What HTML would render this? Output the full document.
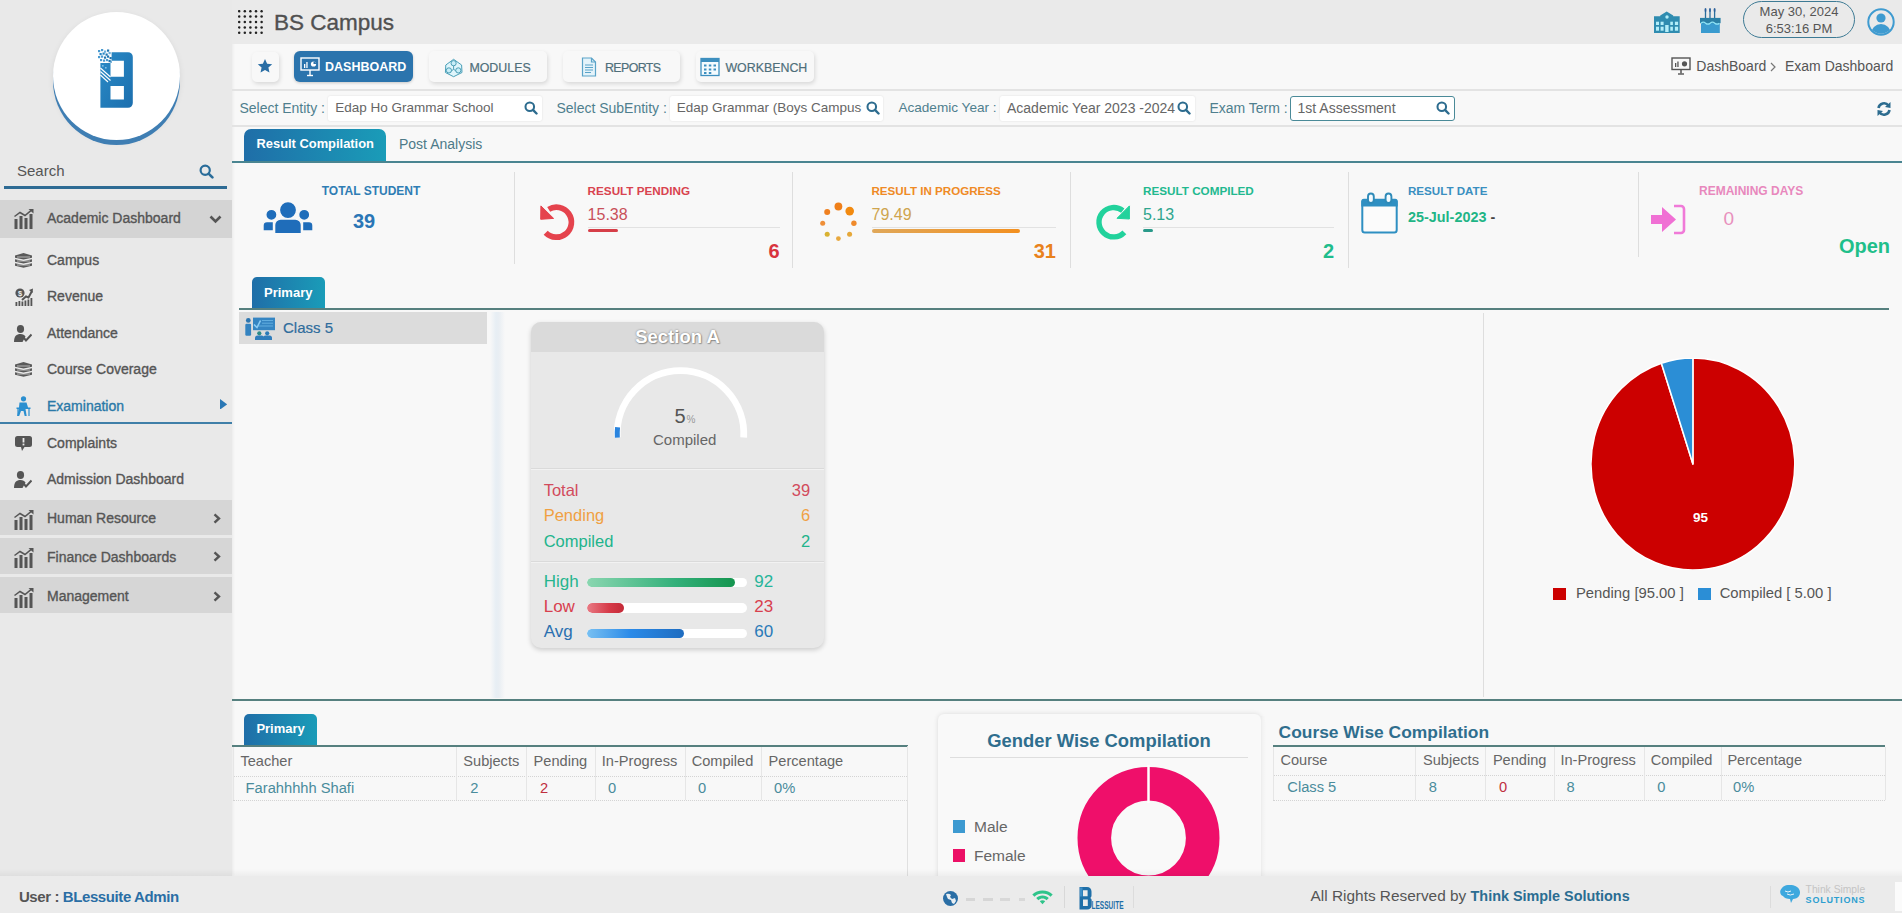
<!DOCTYPE html>
<html><head><meta charset="utf-8"><title>BS Campus - Exam Dashboard</title>
<style>
*{box-sizing:border-box;margin:0;padding:0}
html,body{width:1902px;height:913px;overflow:hidden}
body{position:relative;background:#f8f8f8;font-family:"Liberation Sans",Arial,sans-serif;color:#555}
.a{position:absolute}
.t{position:absolute;white-space:nowrap;line-height:1}
#sidebar{left:0;top:0;width:232px;height:876px;background:#e9e9e9;box-shadow:1px 0 3px rgba(0,0,0,.06)}
#header{left:232px;top:0;width:1670px;height:44px;background:#eaeaea}
#footer{left:0;top:876px;width:1902px;height:37px;background:#ebebeb}
.hl{position:absolute;height:1px;background:#dedede}
.vl{position:absolute;width:1px;background:#dedede}
.mi{font-size:14px;-webkit-text-stroke:.35px currentColor}
.btn{background:#f8f8f8;border-radius:5px;box-shadow:1px 2px 4px rgba(0,0,0,.13)}
.tbt{font-size:12.4px;color:#4f6f7b;-webkit-text-stroke:.2px #4f6f7b}
.flab{font-size:14px;color:#4f7f8e}
.fbox{position:absolute;height:25px;background:#fff;border-radius:2px;box-shadow:0 0 2px rgba(0,0,0,.12)}
.fval{font-size:14px;color:#666}
.slab{font-size:12px;font-weight:bold}
.sbig{font-size:20px;font-weight:bold}
.snum{font-size:16px}
.trk{position:absolute;height:1.5px;background:#e2e2e2}
.crow{font-size:16.5px}
.bar{position:absolute;left:586.8px;width:160px;height:9.5px;border-radius:5px;background:#fff;overflow:hidden}
.bar div{height:100%;border-radius:5px}
.th{font-size:14.6px;color:#666}
.td{font-size:14.7px}
</style></head>
<body>
<div id="sidebar" class="a">
  <div class="a" style="left:53px;top:12px;width:127px;height:128px;border-radius:50%;background:#fff;box-shadow:0 5px 0 0 #3f7eb3,0 2px 6px rgba(0,0,0,.08)"></div>
  <svg class="a" style="left:96px;top:48px" width="40" height="62" viewBox="0 0 40 62">
    <defs><linearGradient id="bg1" x1="0" y1="0" x2="1" y2="1"><stop offset="0" stop-color="#2a8ac6"/><stop offset="1" stop-color="#1c6fae"/></linearGradient></defs>
    <path fill="url(#bg1)" fill-rule="evenodd" d="M15.6 4.2 H32 a4.8 4.8 0 0 1 4.8 4.8 V55 a4.8 4.8 0 0 1 -4.8 4.8 H4.4 V15 H15.6 Z M14.5 12.8 V28.8 H27.9 V12.8 Z M14.5 38 V51.5 H27.9 V38 Z"/>
    <rect x="2" y="2" width="2.2" height="2.2" fill="#4a9ad0"/><rect x="5" y="1" width="2.2" height="2.2" fill="#4a9ad0"/><rect x="8" y="2.5" width="2.2" height="2.2" fill="#6aaedb"/><rect x="11" y="1.5" width="2.2" height="2.2" fill="#1f74b0"/><rect x="3.5" y="5" width="2.2" height="2.2" fill="#2a86c4"/><rect x="6.5" y="4.5" width="2.2" height="2.2" fill="#2a86c4"/><rect x="9.5" y="5.5" width="2.2" height="2.2" fill="#1f74b0"/><rect x="12.5" y="4" width="2.2" height="2.2" fill="#6aaedb"/><rect x="2" y="8" width="2.2" height="2.2" fill="#4a9ad0"/><rect x="5" y="7.5" width="2.2" height="2.2" fill="#4a9ad0"/><rect x="8" y="8.5" width="2.2" height="2.2" fill="#1f74b0"/><rect x="11" y="7.5" width="2.2" height="2.2" fill="#1f74b0"/><rect x="13.5" y="9" width="2.2" height="2.2" fill="#1f74b0"/><rect x="4" y="11" width="2.2" height="2.2" fill="#4a9ad0"/><rect x="7" y="11.5" width="2.2" height="2.2" fill="#4a9ad0"/><rect x="10" y="11" width="2.2" height="2.2" fill="#4a9ad0"/><rect x="12.5" y="12" width="2.2" height="2.2" fill="#1f74b0"/>
    <g stroke="#fff" stroke-width="1.1"><line x1="4.4" y1="20" x2="14.5" y2="29"/><line x1="4.4" y1="23.5" x2="14.5" y2="32.5"/><line x1="4.4" y1="27" x2="12" y2="34"/></g>
    <g fill="#7fc0ea"><rect x="6" y="17" width="1.6" height="1.6"/><rect x="9" y="19" width="1.6" height="1.6"/></g>
  </svg>
  <div class="t" style="left:17px;top:162.5px;font-size:15px;color:#555">Search</div>
  <svg class="a" style="left:199px;top:164px" width="15" height="15" viewBox="0 0 15 15"><circle cx="6.2" cy="6.2" r="4.6" fill="none" stroke="#2a6d9a" stroke-width="2.2"/><line x1="9.6" y1="9.6" x2="13.4" y2="13.4" stroke="#2a6d9a" stroke-width="2.6" stroke-linecap="round"/></svg>
  <div class="a" style="left:4px;top:186px;width:223px;height:2.5px;background:#2e6b94"></div>
  <div class="a" style="left:0;top:200px;width:232px;height:38px;background:#d4d4d4"></div>
  <div class="a" style="left:0;top:500px;width:232px;height:35px;background:#d6d6d6"></div>
  <div class="a" style="left:0;top:538px;width:232px;height:36px;background:#d6d6d6"></div>
  <div class="a" style="left:0;top:577px;width:232px;height:36px;background:#d6d6d6"></div>
  <div class="a" style="left:0;top:422px;width:232px;height:1.6px;background:#3f7fa8"></div>
  <div class="t mi" style="left:47px;top:211.0px;color:#555">Academic Dashboard</div>
  <svg class="a" style="left:13.5px;top:209.1px" width="20" height="20" viewBox="0 0 20 20"><g fill="#555"><rect x="0.5" y="10" width="3" height="10"/><rect x="5.5" y="7" width="3" height="13"/><rect x="10.5" y="9" width="3" height="11"/><rect x="15.5" y="5" width="3" height="15"/></g><polyline points="0.5,7.5 6,3.5 11,6.5 17.5,1.2" fill="none" stroke="#555" stroke-width="1.5"/><polygon points="14.5,0 19.5,0 19.5,4.5" fill="#555"/></svg>
  <svg class="a" style="left:209px;top:214.7px" width="13" height="9" viewBox="0 0 13 9"><polyline points="1.5,1.5 6.5,6.5 11.5,1.5" fill="none" stroke="#555" stroke-width="2.6"/></svg>
  <div class="t mi" style="left:47px;top:252.8px;color:#555">Campus</div>
  <svg class="a" style="left:14px;top:252.9px" width="19" height="15" viewBox="0 0 19 15"><g fill="#5a5a5a"><path d="M1 2.5 L9.5 0 L18 2.5 L18 4.8 L9.5 6.5 L1 4.8z"/><path d="M1 6.3 L9.5 8 L18 6.3 L18 8.8 L9.5 10.5 L1 8.8z"/><path d="M1 10.3 L9.5 12 L18 10.3 L18 12.8 L9.5 14.8 L1 12.8z"/></g><g stroke="#e2e2e2" stroke-width=".7"><line x1="3" y1="4" x2="16" y2="4"/><line x1="3" y1="8" x2="16" y2="8"/><line x1="3" y1="12" x2="16" y2="12"/></g></svg>
  <div class="t mi" style="left:47px;top:289.2px;color:#555">Revenue</div>
  <svg class="a" style="left:14.5px;top:287.7px" width="18" height="18" viewBox="0 0 18 18"><circle cx="5" cy="5" r="4.6" fill="#555"/><text x="5" y="7.8" font-size="7.5" fill="#eee" text-anchor="middle" font-family="Liberation Sans" font-weight="bold">$</text><polyline points="7,12 11,8.5 13.5,9.5 17,3" fill="none" stroke="#555" stroke-width="2"/><polygon points="14,2 18,0.5 17.5,5" fill="#555"/><g fill="#555"><rect x="0.5" y="14" width="1.8" height="4"/><rect x="3.5" y="13" width="1.8" height="5"/><rect x="6.5" y="13.5" width="1.8" height="4.5"/><rect x="9.5" y="12.5" width="1.8" height="5.5"/><rect x="12.5" y="11.5" width="1.8" height="6.5"/><rect x="15.5" y="10" width="1.8" height="8"/></g></svg>
  <div class="t mi" style="left:47px;top:325.9px;color:#555">Attendance</div>
  <svg class="a" style="left:14px;top:324.6px" width="18" height="17" viewBox="0 0 18 17"><ellipse cx="6.5" cy="4" rx="3.6" ry="4" fill="#555"/><path d="M0 17 C0 11 2.5 9 6.5 9 C9 9 10.5 10 11.5 11.5 L8.5 17z" fill="#555"/><polyline points="9.5,12.5 12,15.5 17.5,9.5" fill="none" stroke="#555" stroke-width="2"/></svg>
  <div class="t mi" style="left:47px;top:362.1px;color:#555">Course Coverage</div>
  <svg class="a" style="left:14px;top:362.2px" width="19" height="15" viewBox="0 0 19 15"><g fill="#5a5a5a"><path d="M1 2.5 L9.5 0 L18 2.5 L18 4.8 L9.5 6.5 L1 4.8z"/><path d="M1 6.3 L9.5 8 L18 6.3 L18 8.8 L9.5 10.5 L1 8.8z"/><path d="M1 10.3 L9.5 12 L18 10.3 L18 12.8 L9.5 14.8 L1 12.8z"/></g><g stroke="#e2e2e2" stroke-width=".7"><line x1="3" y1="4" x2="16" y2="4"/><line x1="3" y1="8" x2="16" y2="8"/><line x1="3" y1="12" x2="16" y2="12"/></g></svg>
  <div class="t mi" style="left:47px;top:399.1px;color:#2a79a8">Examination</div>
  <svg class="a" style="left:16px;top:395.8px" width="15" height="20" viewBox="0 0 15 20"><circle cx="7.5" cy="2.8" r="2.6" fill="#2b8fd0"/><path d="M3.5 6.5 h7 l2 6.5 h-3 l1.2 7 h-2 l-1.2-5 h-2.5 l-1.8 5 h-2 l1.6-7z" fill="#2b8fd0"/><path d="M0.5 11.5 h14 v1.5 h-14z" fill="#2b8fd0"/><path d="M2 13 v7 M13 13 v7" stroke="#2b8fd0" stroke-width="1.2"/></svg>
  <svg class="a" style="left:220.3px;top:398.8px" width="7.2" height="10.6" viewBox="0 0 7.2 10.6"><polygon points="0,0 7.2,5.3 0,10.6" fill="#2a78b5"/></svg>
  <div class="t mi" style="left:47px;top:435.9px;color:#555">Complaints</div>
  <svg class="a" style="left:15px;top:435.7px" width="17" height="15" viewBox="0 0 17 15"><path d="M2.5 0 h12 a2.5 2.5 0 0 1 2.5 2.5 v6 a2.5 2.5 0 0 1 -2.5 2.5 h-5 l-2.5 4 l-1-4 h-3.5 a2.5 2.5 0 0 1 -2.5 -2.5 v-6 a2.5 2.5 0 0 1 2.5 -2.5z" fill="#555"/><rect x="7.6" y="2" width="1.8" height="4.5" fill="#ebebeb"/><rect x="7.6" y="7.6" width="1.8" height="1.8" fill="#ebebeb"/></svg>
  <div class="t mi" style="left:47px;top:471.9px;color:#555">Admission Dashboard</div>
  <svg class="a" style="left:14px;top:470.6px" width="18" height="17" viewBox="0 0 18 17"><ellipse cx="6.5" cy="4" rx="3.6" ry="4" fill="#555"/><path d="M0 17 C0 11 2.5 9 6.5 9 C9 9 10.5 10 11.5 11.5 L8.5 17z" fill="#555"/><polyline points="9.5,12.5 12,15.5 17.5,9.5" fill="none" stroke="#555" stroke-width="2"/></svg>
  <div class="t mi" style="left:47px;top:511.4px;color:#555">Human Resource</div>
  <svg class="a" style="left:13.5px;top:509.5px" width="20" height="20" viewBox="0 0 20 20"><g fill="#555"><rect x="0.5" y="10" width="3" height="10"/><rect x="5.5" y="7" width="3" height="13"/><rect x="10.5" y="9" width="3" height="11"/><rect x="15.5" y="5" width="3" height="15"/></g><polyline points="0.5,7.5 6,3.5 11,6.5 17.5,1.2" fill="none" stroke="#555" stroke-width="1.5"/><polygon points="14.5,0 19.5,0 19.5,4.5" fill="#555"/></svg>
  <svg class="a" style="left:213px;top:512.7px" width="8" height="11" viewBox="0 0 8 11"><polyline points="1.5,1.3 6,5.5 1.5,9.7" fill="none" stroke="#555" stroke-width="2.4"/></svg>
  <div class="t mi" style="left:47px;top:550.0px;color:#555">Finance Dashboards</div>
  <svg class="a" style="left:13.5px;top:548.1px" width="20" height="20" viewBox="0 0 20 20"><g fill="#555"><rect x="0.5" y="10" width="3" height="10"/><rect x="5.5" y="7" width="3" height="13"/><rect x="10.5" y="9" width="3" height="11"/><rect x="15.5" y="5" width="3" height="15"/></g><polyline points="0.5,7.5 6,3.5 11,6.5 17.5,1.2" fill="none" stroke="#555" stroke-width="1.5"/><polygon points="14.5,0 19.5,0 19.5,4.5" fill="#555"/></svg>
  <svg class="a" style="left:213px;top:551.3px" width="8" height="11" viewBox="0 0 8 11"><polyline points="1.5,1.3 6,5.5 1.5,9.7" fill="none" stroke="#555" stroke-width="2.4"/></svg>
  <div class="t mi" style="left:47px;top:589.4px;color:#555">Management</div>
  <svg class="a" style="left:13.5px;top:587.5px" width="20" height="20" viewBox="0 0 20 20"><g fill="#555"><rect x="0.5" y="10" width="3" height="10"/><rect x="5.5" y="7" width="3" height="13"/><rect x="10.5" y="9" width="3" height="11"/><rect x="15.5" y="5" width="3" height="15"/></g><polyline points="0.5,7.5 6,3.5 11,6.5 17.5,1.2" fill="none" stroke="#555" stroke-width="1.5"/><polygon points="14.5,0 19.5,0 19.5,4.5" fill="#555"/></svg>
  <svg class="a" style="left:213px;top:590.7px" width="8" height="11" viewBox="0 0 8 11"><polyline points="1.5,1.3 6,5.5 1.5,9.7" fill="none" stroke="#555" stroke-width="2.4"/></svg>
</div>
<div id="header" class="a"></div>
<svg class="a" style="left:238px;top:9.5px" width="26" height="25" viewBox="0 0 26 25"><g fill="#222"><circle cx="1.2" cy="1.2" r="1.25"/><circle cx="1.2" cy="6.6" r="1.25"/><circle cx="1.2" cy="12.0" r="1.25"/><circle cx="1.2" cy="17.4" r="1.25"/><circle cx="1.2" cy="22.8" r="1.25"/><circle cx="6.8" cy="1.2" r="1.25"/><circle cx="6.8" cy="6.6" r="1.25"/><circle cx="6.8" cy="12.0" r="1.25"/><circle cx="6.8" cy="17.4" r="1.25"/><circle cx="6.8" cy="22.8" r="1.25"/><circle cx="12.4" cy="1.2" r="1.25"/><circle cx="12.4" cy="6.6" r="1.25"/><circle cx="12.4" cy="12.0" r="1.25"/><circle cx="12.4" cy="17.4" r="1.25"/><circle cx="12.4" cy="22.8" r="1.25"/><circle cx="18.0" cy="1.2" r="1.25"/><circle cx="18.0" cy="6.6" r="1.25"/><circle cx="18.0" cy="12.0" r="1.25"/><circle cx="18.0" cy="17.4" r="1.25"/><circle cx="18.0" cy="22.8" r="1.25"/><circle cx="23.6" cy="1.2" r="1.25"/><circle cx="23.6" cy="6.6" r="1.25"/><circle cx="23.6" cy="12.0" r="1.25"/><circle cx="23.6" cy="17.4" r="1.25"/><circle cx="23.6" cy="22.8" r="1.25"/></g></svg>
<div class="t" style="left:274px;top:11.6px;font-size:22.5px;color:#505050;-webkit-text-stroke:.35px #505050">BS Campus</div>
<!-- school icon -->
<svg class="a" style="left:1654px;top:11px" width="26" height="23" viewBox="1654 11 26 23"><g fill="#2f8cb0">
<path d="M1654 33 V16.3 H1660.2 V15.5 L1666.7 11.4 L1673.2 15.5 V16.3 H1679.7 V33 Z"/></g>
<g fill="#b3eef9"><rect x="1656" y="21.7" width="3" height="3.3"/><rect x="1660.6" y="21.7" width="3" height="3.3"/><rect x="1670.3" y="21.7" width="2.6" height="3.3"/><rect x="1674.9" y="21.7" width="3.2" height="3.3"/>
<rect x="1656" y="26.7" width="3" height="4"/><rect x="1660.6" y="26.7" width="3" height="4"/><rect x="1670.3" y="26.7" width="2.6" height="4"/><rect x="1674.9" y="26.7" width="3.2" height="4"/>
<rect x="1665.2" y="25" width="3.4" height="7"/><circle cx="1667" cy="17" r="1.7"/></g></svg>
<!-- cake icon -->
<svg class="a" style="left:1699px;top:7px" width="23" height="27" viewBox="1699 7 23 27">
<rect x="1701" y="22.5" width="18.8" height="10.5" fill="#3a9bcf"/>
<rect x="1700" y="17.9" width="20.6" height="5.3" fill="#2b80a6"/>
<path d="M1701 23.2 q2.3 -2 4.6 0 t4.6 0 t4.6 0 t4.6 0" fill="none" stroke="#8fe3f5" stroke-width="1.2"/>
<g stroke="#2a6f9c" stroke-width="1.3"><line x1="1705.5" y1="11" x2="1705.5" y2="18"/><line x1="1710" y1="11" x2="1710" y2="18"/><line x1="1714.6" y1="11" x2="1714.6" y2="18"/></g>
<g fill="#2a5f9a"><ellipse cx="1705.5" cy="10" rx="1" ry="2"/><ellipse cx="1710" cy="10" rx="1" ry="2"/><ellipse cx="1714.6" cy="10" rx="1" ry="2"/></g></svg>
<div class="a" style="left:1743px;top:1px;width:112px;height:37px;border:1.5px solid #3d7a94;border-radius:19px"></div>
<div class="t" style="left:1743px;width:112px;text-align:center;top:5.2px;font-size:13px;color:#555">May 30, 2024</div>
<div class="t" style="left:1743px;width:112px;text-align:center;top:22.4px;font-size:13px;color:#555">6:53:16 PM</div>
<svg class="a" style="left:1867px;top:8px" width="28" height="28" viewBox="0 0 28 28"><defs><clipPath id="uc"><circle cx="14" cy="14" r="11.8"/></clipPath></defs>
<circle cx="14" cy="14" r="12.7" fill="none" stroke="#3f9bd0" stroke-width="2"/><g clip-path="url(#uc)" fill="#3f9bd0"><circle cx="14" cy="10" r="4.6"/><ellipse cx="14" cy="26" rx="10" ry="10"/></g></svg>


<!-- toolbar / filters lines -->
<!-- toolbar -->
<div class="a btn" style="left:252px;top:52px;width:27px;height:30px"></div>
<svg class="a" style="left:257.3px;top:57.6px" width="16" height="16" viewBox="0 0 24 24"><path fill="#2a6ea5" d="M12 1.5l3.2 7 7.6.8-5.7 5.1 1.6 7.5L12 18l-6.7 3.9 1.6-7.5L1.2 9.3l7.6-.8z"/></svg>
<div class="a" style="left:294px;top:51px;width:119px;height:31px;background:#2b74ad;border-radius:6px;box-shadow:0 1px 3px rgba(0,0,0,.2)"></div>
<svg class="a" style="left:300px;top:57px" width="20" height="20" viewBox="0 0 20 20"><rect x="1" y="1" width="18" height="12" fill="none" stroke="#fff" stroke-width="1.4"/><line x1="10" y1="13" x2="10" y2="18" stroke="#fff" stroke-width="1.4"/><line x1="7" y1="18.5" x2="13" y2="18.5" stroke="#fff" stroke-width="1.4"/><g fill="#fff"><rect x="4" y="7" width="1.3" height="4"/><rect x="6.3" y="5" width="1.3" height="6"/><circle cx="13.5" cy="7" r="2.6"/></g><path d="M13.5 7 v-2.6 a2.6 2.6 0 0 1 2.6 2.6z" fill="#2b74ad"/></svg>
<div class="t" style="left:325px;top:61.4px;font-size:12.5px;font-weight:bold;color:#fff">DASHBOARD</div>
<div class="a btn" style="left:429px;top:51px;width:118px;height:31px"></div>
<svg class="a" style="left:444px;top:58px" width="20" height="20" viewBox="444 58 20 20">
<path d="M453.6 59.3 L461.6 65 L462 72.5 L453.6 76.7 L445.4 72.5 L445.8 65 Z" fill="#dff5fb" stroke="#4aa0b8" stroke-width="1" stroke-linejoin="round"/>
<g fill="#c8eef8" stroke="#3f95ae" stroke-width=".9"><circle cx="453.6" cy="63.2" r="2.6"/><circle cx="448.9" cy="70.4" r="2.6"/><circle cx="458.3" cy="70.4" r="2.6"/></g>
<path d="M453.6 65.8 V69 M451.3 71.3 L453.6 69 L455.9 71.3" fill="none" stroke="#3f95ae" stroke-width=".9"/></svg>
<div class="t tbt" style="left:469.4px;top:61.5px">MODULES</div>
<div class="a btn" style="left:563px;top:51px;width:117px;height:31px"></div>
<svg class="a" style="left:581px;top:57px" width="16" height="20" viewBox="0 0 16 20"><path d="M1.5 1 h9 l4 4 v14 h-13z" fill="#e4f3fa" stroke="#5aa3c8" stroke-width="1.2"/><path d="M10.5 1 v4 h4" fill="none" stroke="#5aa3c8" stroke-width="1.2"/><g stroke="#5aa3c8" stroke-width="1"><line x1="4" y1="8" x2="12" y2="8"/><line x1="4" y1="10.5" x2="12" y2="10.5"/><line x1="4" y1="13" x2="12" y2="13"/><line x1="4" y1="15.5" x2="10" y2="15.5"/></g></svg>
<div class="t tbt" style="letter-spacing:-.6px;left:605px;top:61.5px">REPORTS</div>
<div class="a btn" style="left:695.5px;top:51px;width:118px;height:31px"></div>
<svg class="a" style="left:700px;top:57px" width="20" height="20" viewBox="0 0 20 20"><rect x="1" y="1.5" width="18" height="17" fill="#f4fbfe" stroke="#3d8fbf" stroke-width="1.3"/><rect x="1" y="1.5" width="18" height="3.5" fill="#3d8fbf"/><g fill="#3d8fbf"><rect x="4" y="7.5" width="2.5" height="2"/><rect x="8.8" y="7.5" width="2.5" height="2"/><rect x="13.5" y="7.5" width="2.5" height="2"/><rect x="4" y="11.5" width="2.5" height="2"/><rect x="8.8" y="11.5" width="2.5" height="2"/><rect x="13.5" y="11.5" width="2.5" height="2"/><rect x="4" y="15" width="2.5" height="2"/><rect x="8.8" y="15" width="2.5" height="2"/></g></svg>
<div class="t tbt" style="left:725.4px;top:61.5px">WORKBENCH</div>
<!-- breadcrumb -->
<svg class="a" style="left:1671px;top:57px" width="20" height="18" viewBox="0 0 20 18"><rect x="1" y="1" width="18" height="11.5" fill="none" stroke="#555" stroke-width="1.4"/><line x1="10" y1="12.5" x2="10" y2="16.5" stroke="#555" stroke-width="1.5"/><line x1="7" y1="17" x2="13" y2="17" stroke="#555" stroke-width="1.4"/><g fill="#555"><rect x="4" y="6" width="1.3" height="4"/><rect x="6.3" y="4.5" width="1.3" height="5.5"/><circle cx="13.5" cy="6.8" r="2.6"/></g></svg>
<div class="t" style="left:1696.3px;top:58.9px;font-size:14px;color:#555">DashBoard</div>
<svg class="a" style="left:1770px;top:62px" width="6" height="10" viewBox="0 0 6 10"><polyline points="1,1 5,5 1,9" fill="none" stroke="#777" stroke-width="1.2"/></svg>
<div class="t" style="left:1785px;top:59.1px;font-size:14px;color:#555">Exam Dashboard</div>

<!-- filters -->
<div class="t flab" style="left:239.4px;top:100.7px">Select Entity :</div>
<div class="a fbox" style="left:327.6px;top:95.5px;width:214px"></div>
<div class="t fval" style="left:335.2px;top:101.2px;font-size:13.5px">Edap Ho Grammar School</div>
<svg class="a" style="left:523.5px;top:101px" width="14" height="14" viewBox="0 0 15 15"><circle cx="6.2" cy="6.2" r="4.6" fill="none" stroke="#2d6c8f" stroke-width="2.2"/><line x1="9.6" y1="9.6" x2="13.4" y2="13.4" stroke="#2d6c8f" stroke-width="2.6" stroke-linecap="round"/></svg>
<div class="t flab" style="left:556.4px;top:100.7px">Select SubEntity :</div>
<div class="a fbox" style="left:670px;top:95.5px;width:213px"></div>
<div class="t fval" style="left:676.8px;top:101.2px;font-size:13.5px">Edap Grammar (Boys Campus</div>
<svg class="a" style="left:866px;top:101px" width="14" height="14" viewBox="0 0 15 15"><circle cx="6.2" cy="6.2" r="4.6" fill="none" stroke="#2d6c8f" stroke-width="2.2"/><line x1="9.6" y1="9.6" x2="13.4" y2="13.4" stroke="#2d6c8f" stroke-width="2.6" stroke-linecap="round"/></svg>
<div class="t flab" style="left:898.4px;top:101.1px;font-size:13.6px">Academic Year :</div>
<div class="a fbox" style="left:1000px;top:95.5px;width:195px"></div>
<div class="t fval" style="left:1007px;top:100.7px">Academic Year 2023 -2024</div>
<svg class="a" style="left:1177px;top:101px" width="14" height="14" viewBox="0 0 15 15"><circle cx="6.2" cy="6.2" r="4.6" fill="none" stroke="#2d6c8f" stroke-width="2.2"/><line x1="9.6" y1="9.6" x2="13.4" y2="13.4" stroke="#2d6c8f" stroke-width="2.6" stroke-linecap="round"/></svg>
<div class="t flab" style="left:1209.4px;top:100.7px">Exam Term :</div>
<div class="a fbox" style="left:1289.7px;top:95.5px;width:165px;border:1px solid #4a8a98;border-radius:3px;box-shadow:none"></div>
<div class="t fval" style="left:1297.5px;top:100.7px">1st Assessment</div>
<svg class="a" style="left:1436px;top:101px" width="14" height="14" viewBox="0 0 15 15"><circle cx="6.2" cy="6.2" r="4.6" fill="none" stroke="#2d6c8f" stroke-width="2.2"/><line x1="9.6" y1="9.6" x2="13.4" y2="13.4" stroke="#2d6c8f" stroke-width="2.6" stroke-linecap="round"/></svg>
<svg class="a" style="left:1876px;top:101px" width="16" height="16" viewBox="0 0 16 16"><g fill="none" stroke="#2d6c8f" stroke-width="2.6"><path d="M2.5 7 A5.6 5.6 0 0 1 12.5 4.5"/><path d="M13.5 9 A5.6 5.6 0 0 1 3.5 11.5"/></g><g fill="#2d6c8f"><polygon points="14.5,1 14.5,7 9,6"/><polygon points="1.5,15 1.5,9 7,10"/></g></svg>

<!-- stats -->
<div class="a vl" style="left:514px;top:172px;height:92px"></div>
<div class="a vl" style="left:792px;top:172px;height:96px"></div>
<div class="a vl" style="left:1070px;top:172px;height:96px"></div>
<div class="a vl" style="left:1348px;top:172px;height:96px"></div>
<div class="a vl" style="left:1638px;top:172px;height:85px"></div>
<svg class="a" style="left:262px;top:201px" width="52" height="34" viewBox="262 201 52 34"><g fill="#1f6dba" stroke="#f8f8f8" stroke-width="1.4">
<circle cx="271.4" cy="214.8" r="5.6"/><path d="M263 231 v-5.5 a4 4 0 0 1 4 -4 h6.5 v9.5z"/>
<circle cx="304.2" cy="214.8" r="5.6"/><path d="M313 231 v-5.5 a4 4 0 0 0 -4 -4 h-6.5 v9.5z"/>
<circle cx="288" cy="210.1" r="8.6"/><path d="M274.6 233.6 v-8.5 a6 6 0 0 1 6 -6 h14.8 a6 6 0 0 1 6 6 v8.5 a0 0 0 0 1 0 0z"/></g></svg>
<div class="t slab" style="left:321.7px;top:184.8px;color:#2f7db4">TOTAL STUDENT</div>
<div class="t sbig" style="left:353px;top:210.8px;color:#2a76b6">39</div>

<svg class="a" style="left:535px;top:200px" width="45" height="45" viewBox="535 200 45 45"><path d="M548.67 209.34 A15 15 0 1 1 545.68 232.69" fill="none" stroke="#e5434d" stroke-width="5.7"/><polygon points="540.9,205.9 540.7,219.3 553.6,218.4" fill="#e5434d" stroke="#e5434d" stroke-width="1" stroke-linejoin="round"/></svg>
<div class="t slab" style="left:587.6px;top:184.8px;color:#d8434f;font-size:11.7px">RESULT PENDING</div>
<div class="t snum" style="left:587.6px;top:206.8px;color:#c9505a">15.38</div>
<div class="a trk" style="left:587.6px;top:226.5px;width:192px"></div>
<div class="a" style="left:587.6px;top:228.5px;width:30px;height:3px;border-radius:2px;background:#d63e48"></div>
<div class="t sbig" style="left:700px;width:79.6px;text-align:right;top:240.5px;color:#d8343e">6</div>

<svg class="a" style="left:819px;top:201px" width="39" height="41" viewBox="0 0 39 41">
<circle cx="19.4" cy="5.5" r="3.9" fill="#ef7f1a"/><circle cx="30.7" cy="10.1" r="4.3" fill="#f28a10"/><circle cx="34.9" cy="22.2" r="2.7" fill="#ef8a2c"/><circle cx="30.6" cy="33.3" r="2.5" fill="#e6a83a"/>
<circle cx="19.4" cy="37.6" r="2.4" fill="#e8a83e"/><circle cx="8.2" cy="33.3" r="2.5" fill="#d9b232"/><circle cx="3.7" cy="22.2" r="2.5" fill="#ef8f38"/><circle cx="8.2" cy="11" r="3" fill="#ef8020"/></svg>
<div class="t slab" style="left:871.5px;top:184.8px;color:#ef8a25;font-size:11.6px">RESULT IN PROGRESS</div>
<div class="t snum" style="left:871.5px;top:206.8px;color:#cfa54e">79.49</div>
<div class="a trk" style="left:871.5px;top:226.5px;width:184px"></div>
<div class="a" style="left:871.5px;top:228.5px;width:148px;height:4px;border-radius:2px;background:linear-gradient(90deg,#e0a85a,#f39020)"></div>
<div class="t sbig" style="left:976px;width:80px;text-align:right;top:241.4px;color:#e9821c">31</div>

<svg class="a" style="left:1092px;top:200px" width="45" height="45" viewBox="1092 200 45 45"><path d="M1122.75 210.62 A14.7 14.7 0 1 0 1124.36 232.32" fill="none" stroke="#22d29c" stroke-width="5.4"/><polygon points="1129.4,205.9 1129.4,219 1117,218.3" fill="#22d29c" stroke="#22d29c" stroke-width="1" stroke-linejoin="round"/></svg>
<div class="t slab" style="left:1143px;top:184.8px;color:#22b98f;font-size:11.7px">RESULT COMPILED</div>
<div class="t snum" style="left:1143px;top:206.8px;color:#2ea58e">5.13</div>
<div class="a trk" style="left:1143px;top:226.5px;width:191px"></div>
<div class="a" style="left:1143px;top:228.5px;width:9.6px;height:3px;border-radius:2px;background:#2a9a8a"></div>
<div class="t sbig" style="left:1254px;width:80px;text-align:right;top:241.4px;color:#1fbd8c">2</div>

<svg class="a" style="left:1360px;top:191px" width="40" height="44" viewBox="1360 191 40 44">
<rect x="1362.3" y="200" width="34.4" height="32.5" rx="2.5" fill="#fbfbfb" stroke="#2e8fc2" stroke-width="2"/>
<path d="M1361.3 206.6 V201.2 a2.5 2.5 0 0 1 2.5 -2.5 h31.4 a2.5 2.5 0 0 1 2.5 2.5 V206.6z" fill="#2e8fc2"/>
<rect x="1368" y="193.5" width="5.8" height="9.5" rx="2.9" fill="#f4fbff" stroke="#2e8ab8" stroke-width="1.9"/>
<rect x="1385.6" y="193.5" width="5.8" height="9.5" rx="2.9" fill="#f4fbff" stroke="#2e8ab8" stroke-width="1.9"/></svg>
<div class="t slab" style="left:1408px;top:184.8px;color:#3a8fc0;font-size:11.6px">RESULT DATE</div>
<div class="t" style="left:1408px;top:210.4px;font-size:14.4px;font-weight:bold;color:#1fb586">25-Jul-2023 <span style="color:#444">-</span></div>

<svg class="a" style="left:1650px;top:204px" width="37" height="31" viewBox="0 0 37 31"><path d="M24 2 h7 a3 3 0 0 1 3 3 v21 a3 3 0 0 1 -3 3 h-7" fill="none" stroke="#f07ad8" stroke-width="2.6"/><path d="M1 11 h11 v-8 l14 12.5 l-14 12.5 v-8 h-11z" fill="#f070d4"/></svg>
<div class="t slab" style="left:1699px;top:184.8px;color:#e888bd">REMAINING DAYS</div>
<div class="t" style="left:1723.5px;top:208.9px;font-size:19px;color:#e890bd">0</div>
<div class="t sbig" style="left:1790px;width:100px;text-align:right;top:236.1px;color:#1fbf8a">Open</div>


<!-- main -->
<div class="a" style="left:252.4px;top:277px;width:72.6px;height:31.5px;border-radius:5px 5px 0 0;background:linear-gradient(90deg,#1f6ea8,#1a9cb8)"></div>
<div class="t" style="left:264px;top:285.6px;font-size:13px;font-weight:bold;color:#fff">Primary</div>
<div class="a" style="left:239px;top:308px;width:1650px;height:1.6px;background:#56807f"></div>
<div class="a" style="left:238.8px;top:312.4px;width:247.8px;height:31.5px;background:#dcdcdc"></div>
<svg class="a" style="left:244px;top:316px" width="33" height="25" viewBox="244 316 33 25">
<rect x="253" y="317.6" width="22" height="12.6" fill="#3585c2"/>
<g stroke="#62aee0" stroke-width="1"><line x1="262" y1="320.5" x2="273" y2="320.5"/><line x1="262" y1="323.2" x2="273" y2="323.2"/><line x1="258" y1="326" x2="273" y2="326"/></g>
<polyline points="254,324.5 257,327.5 260.5,320.5" fill="none" stroke="#8dcdf5" stroke-width="1.6"/>
<circle cx="248.3" cy="320.4" r="2.4" fill="#2d76b0"/><rect x="245.3" y="323.8" width="5.8" height="12" rx="1.2" fill="#3483c0"/>
<circle cx="259.3" cy="333.3" r="2.1" fill="#2a8a88"/><circle cx="267.2" cy="333.3" r="2.1" fill="#2a7ab8"/>
<path d="M255 340 v-2 a2.5 2.5 0 0 1 2.5 -2.5 h4 a2.5 2.5 0 0 1 2.5 2.5 v2z" fill="#2f7dbc"/><path d="M263 340 v-2 a2.5 2.5 0 0 1 2.5 -2.5 h4 a2.5 2.5 0 0 1 2.5 2.5 v2z" fill="#2f7dbc"/></svg>
<div class="t" style="left:283px;top:320.3px;font-size:15px;color:#2f6d9c;-webkit-text-stroke:.2px #2f6d9c">Class 5</div>
<div class="a" style="left:490px;top:312px;width:15px;height:386px;background:linear-gradient(90deg,rgba(230,238,245,0),#e7eef4 40%,#e9eef3 60%,rgba(233,238,243,0))"></div>

<!-- section card -->
<div class="a" style="left:531px;top:322.3px;width:293px;height:326px;border-radius:10px;background:#e8e8e8;box-shadow:0 2px 5px rgba(0,0,0,.18);overflow:hidden">
  <div class="a" style="left:0;top:0;width:293px;height:29.7px;background:#dadada"></div>
  <div class="a" style="left:0;top:146px;width:293px;height:1px;background:#dadada;box-shadow:0 1px 0 #f2f2f2"></div>
  <div class="a" style="left:0;top:239px;width:293px;height:1px;background:#dadada;box-shadow:0 1px 0 #f2f2f2"></div>
</div>
<div class="t" style="left:531px;width:293px;text-align:center;top:328.8px;font-size:18.5px;font-weight:bold;color:#fff;text-shadow:0 0 2px rgba(0,0,0,.45),1px 1px 1px rgba(0,0,0,.25);margin-top:-0.7px">Section A</div>
<svg class="a" style="left:600px;top:360px" width="160" height="90" viewBox="600 360 160 90">
<path d="M617.30 437.53 A63.3 63.3 0 1 1 743.70 437.53" fill="none" stroke="#fff" stroke-width="6.8"/>
<path d="M617.30 437.53 A63.3 63.3 0 0 1 617.56 427.25" fill="none" stroke="#2a84de" stroke-width="5"/>
</svg>
<div class="t" style="left:674.5px;top:406.1px;font-size:20px;color:#555">5</div>
<div class="t" style="left:686.5px;top:415px;font-size:10px;color:#999">%</div>
<div class="t" style="left:653px;top:432.3px;font-size:15px;color:#666">Compiled</div>
<div class="t crow" style="left:543.7px;top:481.5px;color:#d24b5c">Total</div>
<div class="t crow" style="left:730px;width:80.2px;text-align:right;top:481.5px;color:#d24b5c">39</div>
<div class="t crow" style="left:543.7px;top:507.3px;color:#f0a043">Pending</div>
<div class="t crow" style="left:730px;width:80.2px;text-align:right;top:507.3px;color:#f0a043">6</div>
<div class="t crow" style="left:543.7px;top:532.5px;color:#22b48c">Compiled</div>
<div class="t crow" style="left:730px;width:80.2px;text-align:right;top:532.5px;color:#22b48c">2</div>
<div class="t crow" style="left:543.7px;top:572.6px;font-size:17px;color:#25b58e">High</div>
<div class="a bar" style="top:577.5px"><div style="width:148px;background:linear-gradient(90deg,#8ad6b0,#33b07a 60%,#15954f)"></div></div>
<div class="t crow" style="left:754.3px;top:572.6px;font-size:17px;color:#25b59a">92</div>
<div class="t crow" style="left:543.7px;top:597.8px;font-size:17px;color:#d8404e">Low</div>
<div class="a bar" style="top:603.2px"><div style="width:37px;background:linear-gradient(90deg,#e87a84,#d63a48 60%,#c42a38)"></div></div>
<div class="t crow" style="left:754.3px;top:597.8px;font-size:17px;color:#d8404e">23</div>
<div class="t crow" style="left:543.7px;top:623.4px;font-size:17px;color:#2a70b0">Avg</div>
<div class="a bar" style="top:628.8px"><div style="width:97px;background:linear-gradient(90deg,#78c0f2,#2a8ae8 45%,#1e6cc0)"></div></div>
<div class="t crow" style="left:754.3px;top:623.4px;font-size:17px;color:#2a7ab8">60</div>

<!-- pie -->
<div class="a vl" style="left:1483px;top:313px;height:384px"></div>
<svg class="a" style="left:1590.9px;top:357.6px" width="203.8" height="212.1" viewBox="0 0 200 200" preserveAspectRatio="none">
<path d="M100 100 L100 0 A100 100 0 1 1 69.10 4.89 Z" fill="#cc0000" stroke="#fff" stroke-width="1.5" stroke-linejoin="round"/>
<path d="M100 100 L69.10 4.89 A100 100 0 0 1 100 0 Z" fill="#2b8ed6" stroke="#fff" stroke-width="1.5" stroke-linejoin="round"/>
</svg>
<div class="t" style="left:1680px;width:41px;text-align:center;top:510.6px;font-size:13.5px;font-weight:bold;color:#fff">95</div>
<div class="a" style="left:1553.4px;top:587.5px;width:13px;height:12.5px;background:#cc0000"></div>
<div class="t" style="left:1576px;top:586.0px;font-size:14.8px;color:#555">Pending [95.00 ]</div>
<div class="a" style="left:1698px;top:587.5px;width:13px;height:12.5px;background:#2b8ed6"></div>
<div class="t" style="left:1719.7px;top:586.0px;font-size:14.8px;color:#555">Compiled [ 5.00 ]</div>
<div class="a" style="left:232px;top:699px;width:1670px;height:1.6px;background:#56807f"></div>

<!-- tabs -->
<div class="a" style="left:244px;top:129.4px;width:142px;height:33px;border-radius:7px 7px 0 0;background:linear-gradient(90deg,#1f6ea8,#1a9cb8)"></div>
<div class="t" style="left:256.5px;top:137.8px;font-size:12.9px;font-weight:bold;color:#fff">Result Compilation</div>
<div class="t" style="left:399px;top:137.1px;font-size:14px;color:#4d7a88">Post Analysis</div>
<div class="a" style="left:232px;top:161px;width:1670px;height:1.6px;background:#4a8591"></div>

<div class="hl" style="left:232px;top:89px;width:1670px;height:2px;background:#e3e3e3"></div>
<div class="hl" style="left:232px;top:125px;width:1670px;height:2px;background:#e3e3e3"></div>


<!-- bottom -->
<div class="a" style="left:243.9px;top:714px;width:72.8px;height:32px;border-radius:5px 5px 0 0;background:linear-gradient(90deg,#1f6ea8,#1a9cb8)"></div>
<div class="t" style="left:256.4px;top:721.6px;font-size:13px;font-weight:bold;color:#fff">Primary</div>
<div class="a" style="left:232px;top:745.2px;width:675.5px;height:1.6px;background:#56807f"></div>
<div class="a" style="left:906.5px;top:746px;width:1px;height:130px;background:#e0e0e0"></div>
<div class="a" style="left:232.5px;top:775.8px;width:674.3px;height:0;border-top:1px dotted #d4d4d4"></div>
<div class="a" style="left:232.5px;top:800.2px;width:674.3px;height:0;border-top:1px dotted #d4d4d4"></div>
<div class="a" style="left:232.5px;top:746.5px;width:1px;height:53.700000000000045px;background:#e6e6e6"></div>
<div class="a" style="left:456.4px;top:746.5px;width:1px;height:53.700000000000045px;background:#e6e6e6"></div>
<div class="a" style="left:525.8px;top:746.5px;width:1px;height:53.700000000000045px;background:#e6e6e6"></div>
<div class="a" style="left:594.5px;top:746.5px;width:1px;height:53.700000000000045px;background:#e6e6e6"></div>
<div class="a" style="left:684.5px;top:746.5px;width:1px;height:53.700000000000045px;background:#e6e6e6"></div>
<div class="a" style="left:761.4px;top:746.5px;width:1px;height:53.700000000000045px;background:#e6e6e6"></div>
<div class="a" style="left:906.8px;top:746.5px;width:1px;height:53.700000000000045px;background:#e6e6e6"></div>
<div class="t th" style="left:240.4px;top:753.6px">Teacher</div>
<div class="t th" style="left:463.3px;top:753.6px">Subjects</div>
<div class="t th" style="left:533.6px;top:753.6px">Pending</div>
<div class="t th" style="left:601.8px;top:753.6px">In-Progress</div>
<div class="t th" style="left:691.7px;top:753.6px">Compiled</div>
<div class="t th" style="left:768.6px;top:753.6px">Percentage</div>
<div class="t td" style="left:245.6px;top:780.7px;color:#4a8c9c">Farahhhhh Shafi</div>
<div class="t td" style="left:470.3px;top:780.7px;color:#4a8c9c">2</div>
<div class="t td" style="left:540px;top:780.7px;color:#c0303f">2</div>
<div class="t td" style="left:608px;top:780.7px;color:#4a8c9c">0</div>
<div class="t td" style="left:698px;top:780.7px;color:#4a8c9c">0</div>
<div class="t td" style="left:774px;top:780.7px;color:#4a8c9c">0%</div>
<!-- gender card -->
<div class="a" style="left:937.5px;top:714px;width:323px;height:175px;border-radius:6px;background:#f9f9f9;box-shadow:0 0 5px rgba(0,0,0,.12)"></div>
<div class="t" style="left:937.5px;width:323px;text-align:center;top:732.2px;font-size:18.4px;font-weight:bold;color:#2f6e8e">Gender Wise Compilation</div>
<div class="a" style="left:950px;top:757px;width:298px;height:1px;background:#dedede"></div>
<div class="a" style="left:952.7px;top:820px;width:12.8px;height:13px;background:#3d9ad1"></div>
<div class="t" style="left:974px;top:818.7px;font-size:15.5px;color:#666">Male</div>
<div class="a" style="left:952.7px;top:849.3px;width:12.8px;height:13px;background:#ec1066"></div>
<div class="t" style="left:974px;top:847.9px;font-size:15.5px;color:#666">Female</div>
<svg class="a" style="left:1070px;top:760px" width="160" height="160" viewBox="1070 760 160 160"><circle cx="1148.5" cy="838" r="54.2" fill="none" stroke="#ef0f6a" stroke-width="33.6"/><line x1="1148.5" y1="765" x2="1148.5" y2="803" stroke="#fff" stroke-width="2.5"/></svg>
<!-- course wise -->
<div class="a" style="left:1261px;top:716px;width:4px;height:160px;background:linear-gradient(90deg,#ececec,#f4f4f4,rgba(248,248,248,0))"></div>
<div class="t" style="left:1278.6px;top:724.1px;font-size:17.4px;font-weight:bold;color:#2f6e8e">Course Wise Compilation</div>
<div class="a" style="left:1273px;top:745.2px;width:612px;height:1.6px;background:#56807f"></div>
<div class="a" style="left:1273px;top:775px;width:612px;height:0;border-top:1px dotted #d4d4d4"></div>
<div class="a" style="left:1273px;top:800.2px;width:612px;height:0;border-top:1px dotted #d4d4d4"></div>
<div class="a" style="left:1273px;top:746.5px;width:1px;height:53.700000000000045px;background:#e6e6e6"></div>
<div class="a" style="left:1415.1px;top:746.5px;width:1px;height:53.700000000000045px;background:#e6e6e6"></div>
<div class="a" style="left:1485.4px;top:746.5px;width:1px;height:53.700000000000045px;background:#e6e6e6"></div>
<div class="a" style="left:1553.6px;top:746.5px;width:1px;height:53.700000000000045px;background:#e6e6e6"></div>
<div class="a" style="left:1643.7px;top:746.5px;width:1px;height:53.700000000000045px;background:#e6e6e6"></div>
<div class="a" style="left:1720.7px;top:746.5px;width:1px;height:53.700000000000045px;background:#e6e6e6"></div>
<div class="a" style="left:1885px;top:746.5px;width:1px;height:53.700000000000045px;background:#e6e6e6"></div>
<div class="t th" style="left:1280.4px;top:752.9px">Course</div>
<div class="t th" style="left:1423px;top:752.9px">Subjects</div>
<div class="t th" style="left:1492.9px;top:752.9px">Pending</div>
<div class="t th" style="left:1560.4px;top:752.9px">In-Progress</div>
<div class="t th" style="left:1650.8px;top:752.9px">Compiled</div>
<div class="t th" style="left:1727.4px;top:752.9px">Percentage</div>
<div class="t td" style="left:1287.3px;top:779.6px;color:#4a8c9c">Class 5</div>
<div class="t td" style="left:1428.7px;top:779.6px;color:#4a8c9c">8</div>
<div class="t td" style="left:1499px;top:779.6px;color:#c0303f">0</div>
<div class="t td" style="left:1566.4px;top:779.6px;color:#4a8c9c">8</div>
<div class="t td" style="left:1657.2px;top:779.6px;color:#4a8c9c">0</div>
<div class="t td" style="left:1733px;top:779.6px;color:#4a8c9c">0%</div>
<!-- footer -->
<div class="a" style="left:0;top:869px;width:1902px;height:8px;background:linear-gradient(180deg,rgba(0,0,0,0),rgba(0,0,0,.05))"></div>
<div id="footer" class="a"></div>
<div class="t" style="left:18.9px;top:889.1px;font-size:15px;font-weight:bold;letter-spacing:-.4px;color:#555">User : <span style="color:#2a6ea5">BLessuite Admin</span></div>
<svg class="a" style="left:942px;top:890px" width="17" height="17" viewBox="0 0 17 17"><circle cx="8.5" cy="8.5" r="7.5" fill="#2a6ea5"/><path d="M4 4 q3 -1 5 1 l-1 2 l2 2 l3 -1 l1 3 l-2 3 l-2 -1 l-1 -3 l-3 -1 l-1 -2z" fill="#e8eef2"/></svg>
<div class="a" style="left:966px;top:898px;width:9px;height:2.5px;background:#d6d6d6"></div>
<div class="a" style="left:983px;top:898px;width:10px;height:2.5px;background:#d6d6d6"></div>
<div class="a" style="left:1000px;top:898px;width:10px;height:2.5px;background:#d8d8d8"></div>
<div class="a" style="left:1019px;top:898px;width:6px;height:2.5px;background:#d8d8d8"></div>
<svg class="a" style="left:1032px;top:890px" width="21" height="16" viewBox="0 0 21 16"><g fill="#2ec48a"><path d="M10.5 0.5 C6.5 0.5 3 2 0.3 4.6 L2.5 6.8 C4.6 4.8 7.4 3.6 10.5 3.6 C13.6 3.6 16.4 4.8 18.5 6.8 L20.7 4.6 C18 2 14.5 0.5 10.5 0.5z"/><path d="M10.5 5.4 C8 5.4 5.8 6.4 4.2 8 L6.4 10.2 C7.5 9.1 8.9 8.5 10.5 8.5 C12.1 8.5 13.5 9.1 14.6 10.2 L16.8 8 C15.2 6.4 13 5.4 10.5 5.4z"/><path d="M10.5 10.2 C9.4 10.2 8.5 10.6 7.8 11.3 L10.5 14.2 L13.2 11.3 C12.5 10.6 11.6 10.2 10.5 10.2z"/></g></svg>
<div class="a" style="left:1064px;top:886px;width:1px;height:22px;background:#d8d8d8"></div>
<svg class="a" style="left:1078px;top:886px" width="48" height="24" viewBox="0 0 48 24"><path d="M1.5 1 h7.5 c2.8 0 4.5 1.8 4.5 4.5 v4 c0 1.2-.6 2-1.2 2.4 c.8 .4 1.4 1.3 1.4 2.6 v4.5 c0 2.8-1.8 4.5-4.5 4.5 h-7.7z M5 4.2 v6 h4.6 v-6z M5 13.5 v6.6 h4.8 v-6.6z" fill="#1f6fa8" fill-rule="evenodd"/>
<rect x="2" y="1.5" width="2.5" height="9" fill="#3f8fc8"/>
<text x="13.5" y="22.5" font-family="Liberation Sans" font-weight="bold" font-size="10.5" fill="#1f6fa8" textLength="32" lengthAdjust="spacingAndGlyphs">LESSUITE</text></svg>
<div class="a" style="left:1133px;top:886px;width:1px;height:22px;background:#dcdcdc"></div>
<div class="t" style="left:1310.6px;top:887.8px;font-size:15.4px;color:#555">All Rights Reserved by <b style="color:#2a6d92;font-size:14.4px">Think Simple Solutions</b></div>
<div class="a" style="left:1769.5px;top:886px;width:1px;height:22px;background:#dcdcdc"></div>
<svg class="a" style="left:1778px;top:885px" width="23" height="20" viewBox="0 0 23 20"><path d="M4 3 c3-4 11-4 15-1 c3 2 4 6 2 9 c-1 2-4 3-6 3 l-2 4 l-1-4 c-3 0-6-1-7-3 c-3-1-4-5-1-8z" fill="#3ea8de"/><path d="M7 6 q3 2 6 0 M9 9 q3 2 7 0" fill="none" stroke="#e8f4fa" stroke-width="1"/></svg>
<div class="t" style="left:1805.6px;top:885px;font-size:10.3px;color:#c4c4c4">Think Simple</div>
<div class="t" style="left:1805.6px;top:896.2px;font-size:9px;font-weight:bold;color:#2e9fd0;letter-spacing:.8px">SOLUTIONS</div>
<div class="a" style="left:1895.2px;top:881.7px;width:7px;height:29px;background:#fbfbfb"></div>

</body></html>
